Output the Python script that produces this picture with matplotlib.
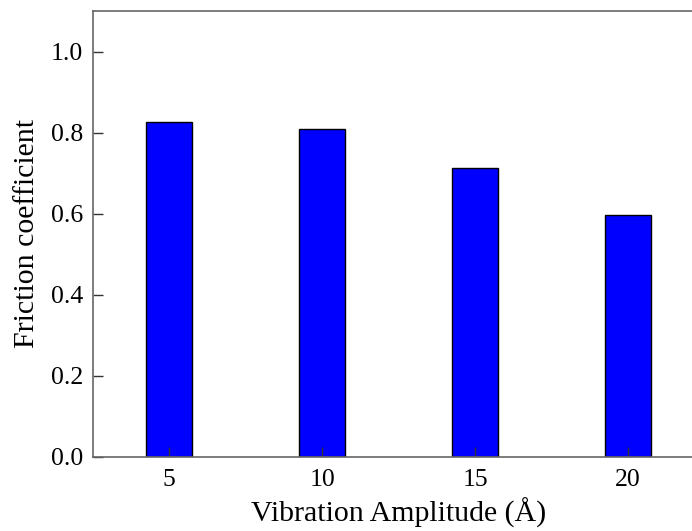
import matplotlib
matplotlib.use('Agg')
import matplotlib.pyplot as plt

amplitudes = [5, 10, 15, 20]
friction = [0.827, 0.810, 0.712, 0.596]
y_ticks = [0.0, 0.2, 0.4, 0.6, 0.8, 1.0]

plt.rcParams['font.family'] = ['Liberation Serif', 'DejaVu Serif']

fig = plt.figure(figsize=(6.92, 5.31), dpi=100)
# axes runs past the right edge of the figure, like the cropped original
ax = fig.add_axes([92.7 / 692, 1 - 456.7 / 531, (704.5 - 92.7) / 692, (456.7 - 11) / 531])

ax.bar(amplitudes, friction, width=1.5, color='#0000ff', edgecolor='black', linewidth=1.0)

ax.set_xlim(2.5, 22.5)
ax.set_ylim(0, 1.1)
ax.set_xticks(amplitudes)
ax.set_yticks(y_ticks)
ax.set_yticklabels(['{:.1f}'.format(v) for v in y_ticks])
ax.tick_params(direction='in', length=7, width=1, labelsize=18.5, color='#333333', pad=7)
ax.tick_params(axis='x', pad=9)

for side in ['left', 'bottom', 'top', 'right']:
    ax.spines[side].set_color('#666666')
    ax.spines[side].set_linewidth(1.2)

ax.set_xlabel('Vibration Amplitude (\u00c5)', fontsize=21.5, labelpad=5)
ax.set_ylabel('Friction coefficient', fontsize=21.5, labelpad=8)

fig.savefig('out.png', dpi=100)
